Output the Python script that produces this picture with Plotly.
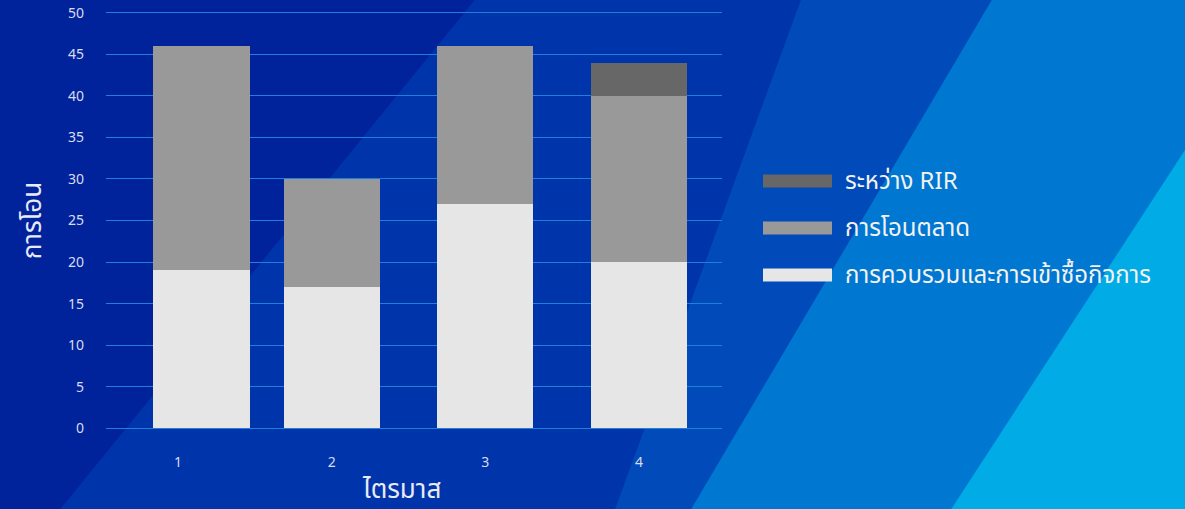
import plotly.graph_objects as go

# Quarterly transfer counts, stacked by transfer type
quarters = [1, 2, 3, 4]
series_names = ["การควบรวมและการเข้าซื้อกิจการ", "การโอนตลาด", "ระหว่าง RIR"]
mergers = [19, 17, 27, 20]
market_transfers = [27, 13, 19, 20]
inter_rir = [0, 0, 0, 4]
y_ticks = [0, 5, 10, 15, 20, 25, 30, 35, 40, 45, 50]

colors = ["#e6e6e6", "#999999", "#676767"]
values = [mergers, market_transfers, inter_rir]

W, H = 1185, 509
Y_LO, Y_HI = -0.2, 50.2
UNIT = 8.3  # pixels per count on the value axis
L, R = 106, 722
T = 13 - (Y_HI - 50) * UNIT
B = 428 - Y_LO * UNIT


def px(x):
    return (x - L) / (R - L)


def py(y):
    return (B - y) / (B - T)


FONT = "Noto Sans Thai, Leelawadee UI, Tahoma, Noto Sans, sans-serif"

fig = go.Figure()
bar_width = 0.625
offsets = [-0.16, -0.3125, -0.3125, -0.3125]
for name, vals, col in zip(series_names, values, colors):
    fig.add_trace(go.Bar(
        x=quarters, y=vals, name=name, marker=dict(color=col, line=dict(width=0)),
        width=bar_width, offset=offsets, showlegend=False,
    ))

# diagonal background bands
bands = [
    ("#0034ab", [(475, 0), (W, 0), (W, H), (60, H)]),
    ("#004bb9", [(801, 0), (W, 0), (W, H), (615, H)]),
    ("#0077d0", [(992, 0), (W, 0), (W, H), (691, H)]),
    ("#00abe6", [(W, 150), (W, H), (951, H)]),
]
shapes = []
for col, pts in bands:
    path = "M " + " L ".join(f"{px(x):.5f},{py(y):.5f}" for x, y in pts) + " Z"
    shapes.append(dict(type="path", xref="paper", yref="paper", path=path,
                       fillcolor=col, line=dict(width=0), layer="below"))

# legend drawn as wide swatches with labels
annotations = []
legend_rows = [(2, 181), (1, 228), (0, 275)]
for idx, yc in legend_rows:
    shapes.append(dict(type="rect", xref="paper", yref="paper",
                       x0=px(763), x1=px(832), y0=py(yc + 6.5), y1=py(yc - 6.5),
                       fillcolor=colors[idx], line=dict(width=0)))
    annotations.append(dict(xref="paper", yref="paper", x=px(843), y=py(yc + 1),
                            xanchor="left", yanchor="middle", showarrow=False,
                            text=series_names[idx],
                            font=dict(family=FONT, size=24, color="#f2f2f2")))

# horizontal axis title
annotations.append(dict(xref="paper", yref="paper", x=px(401), y=py(490),
                        xanchor="center", yanchor="middle", showarrow=False,
                        text="ไตรมาส",
                        font=dict(family=FONT, size=26, color="#e8eaf6")))

fig.update_layout(
    width=W, height=H,
    margin=dict(l=L, r=W - R, t=T, b=H - B, autoexpand=False),
    paper_bgcolor="#00239c", plot_bgcolor="rgba(0,0,0,0)",
    barmode="stack", bargap=0.375,
    shapes=shapes, annotations=annotations,
    font=dict(family=FONT, color="#d8dcf0"),
    xaxis=dict(
        range=[0.531, 4.54], tickmode="array", tickvals=quarters,
        ticktext=[str(q) for q in quarters], showgrid=False, zeroline=False,
        showline=False, ticks="", ticklabelstandoff=22, automargin=False,
        tickfont=dict(size=14, color="#d8dcf0"),
    ),
    yaxis=dict(
        range=[Y_LO, Y_HI], tickmode="array", tickvals=y_ticks,
        showgrid=True, gridcolor="#1f7fdb", gridwidth=1, zeroline=False,
        showline=False, ticks="", ticklabelstandoff=21, automargin=False,
        tickfont=dict(size=14, color="#d8dcf0"),
        title=dict(text="การโอน", font=dict(size=26, color="#e8eaf6"), standoff=18),
    ),
)

fig.write_html("out.html")
